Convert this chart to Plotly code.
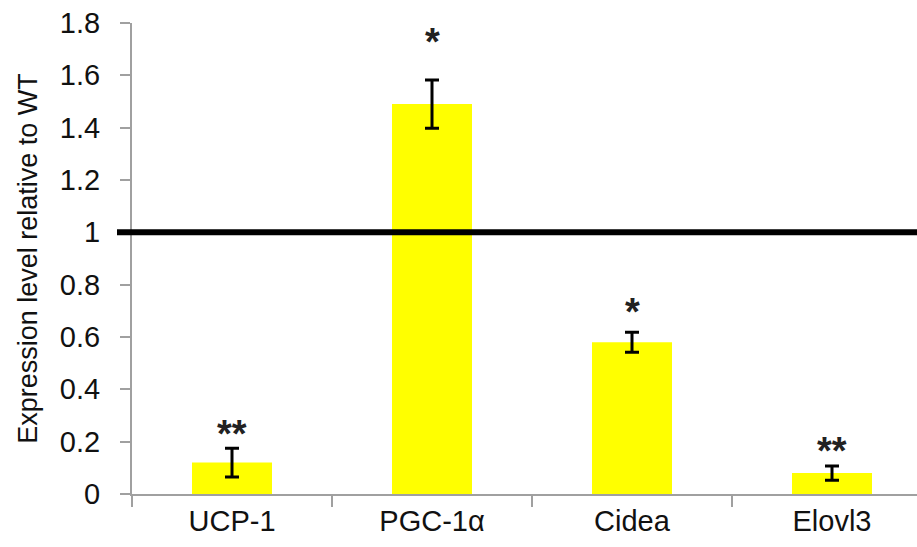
import plotly.graph_objects as go

genes = ["UCP-1", "PGC-1α", "Cidea", "Elovl3"]
expression = [0.12, 1.49, 0.58, 0.08]
errors = [0.055, 0.092, 0.038, 0.027]
significance = ["**", "*", "*", "**"]
sig_levels = [0.245, 1.742, 0.71, 0.18]
y_ticks = [0, 0.2, 0.4, 0.6, 0.8, 1, 1.2, 1.4, 1.6, 1.8]
y_ticktext = ["0", "0.2", "0.4", "0.6", "0.8", "1", "1.2", "1.4", "1.6", "1.8"]
reference_level = 1.0

FONT = "Liberation Sans, Arial, sans-serif"

fig = go.Figure()
fig.add_trace(go.Bar(
    x=genes, y=expression, width=0.4,
    marker=dict(color="#FFFF00", line=dict(width=0)),
    error_y=dict(type="data", array=errors, visible=True,
                 color="black", thickness=3, width=7),
))

for g, s, ly in zip(genes, significance, sig_levels):
    fig.add_annotation(x=g, y=ly, text=f"<b>{s}</b>", showarrow=False,
                       yanchor="middle", xanchor="center", yshift=-4,
                       font=dict(family=FONT, size=38, color="#222222"))

fig.add_shape(type="line", xref="paper", yref="y",
              x0=-15 / 785, x1=1, y0=reference_level, y1=reference_level,
              line=dict(color="black", width=6), layer="above")

fig.update_layout(
    width=917, height=547,
    margin=dict(l=132, r=0, t=23, b=53),
    plot_bgcolor="white", paper_bgcolor="white",
    showlegend=False,
    font=dict(family=FONT, color="#111111"),
    bargap=0.6,
)
fig.update_xaxes(
    range=[-0.5, 3.425],
    showline=True, linecolor="#A0A0A0", linewidth=2,
    ticks="outside", tickson="boundaries", ticklen=11, tickwidth=2,
    tickcolor="#A0A0A0",
    tickfont=dict(family=FONT, size=29, color="#111111"),
    showgrid=False, zeroline=False,
)
fig.update_yaxes(
    range=[0, 1.8],
    tickvals=y_ticks, ticktext=y_ticktext,
    showline=True, linecolor="#A0A0A0", linewidth=2,
    ticks="outside", ticklen=10, tickwidth=2, tickcolor="#A0A0A0",
    ticklabelstandoff=14,
    tickfont=dict(family=FONT, size=29, color="#111111"),
    showgrid=False, zeroline=False,
    title=dict(text="Expression level relative to WT",
               font=dict(family=FONT, size=27, color="#111111"), standoff=14),
)

fig.write_html("out.html")
